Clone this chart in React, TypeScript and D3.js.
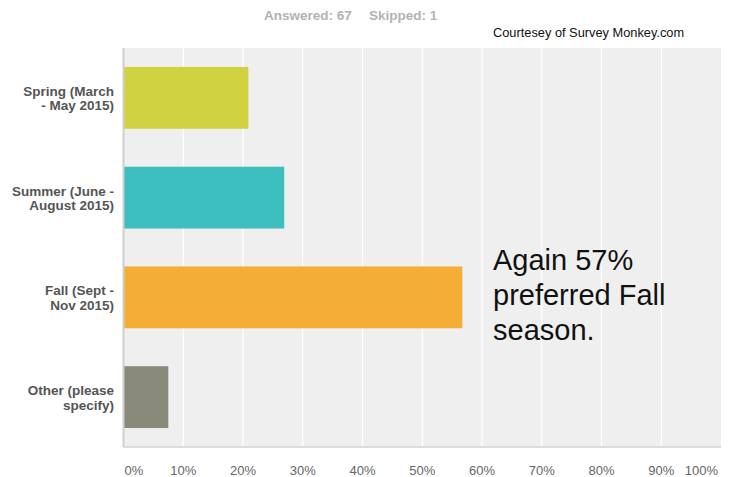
import React from 'react'
import * as d3 from 'd3'

const categories = ['Spring', 'Summer', 'Fall', 'Other']
const labelLines = [
  ['Spring (March', '- May 2015)'],
  ['Summer (June -', 'August 2015)'],
  ['Fall (Sept -', 'Nov 2015)'],
  ['Other (please', 'specify)'],
]
const values = [20.9, 26.9, 56.7, 7.5]
const barColors = ['#d0d23f', '#3dbfbf', '#f4ad36', '#8a8a7a']
const ticks = [0, 10, 20, 30, 40, 50, 60, 70, 80, 90, 100]
const noteLines = ['Again 57%', 'preferred Fall', 'season.']

const W = 732
const H = 477
const plot = { left: 123.5, right: 721, top: 48, bottom: 447 }
const font = '"Liberation Sans", Arial, Helvetica, sans-serif'

export default function App() {
  const x = d3.scaleLinear().domain([0, 100]).range([plot.left, plot.right])
  const y = d3
    .scaleBand<string>()
    .domain(categories)
    .range([plot.top, plot.bottom])
    .paddingInner(0.38)
    .paddingOuter(0.19)

  return (
    <div style={{ position: 'absolute', left: 0, top: 0 }}>
      <svg width={W} height={H} style={{ display: 'block', background: '#fff' }} fontFamily={font}>
        {/* header */}
        <text x={264} y={20} fontSize={13.5} fontWeight="bold" fill="#b3b3b3">Answered: 67</text>
        <text x={369} y={20} fontSize={13.5} fontWeight="bold" fill="#b3b3b3">Skipped: 1</text>
        <text x={493} y={37} fontSize={12.8} fill="#111">Courtesey of Survey Monkey.com</text>

        {/* plot background */}
        <rect x={plot.left} y={plot.top} width={plot.right - plot.left} height={plot.bottom - plot.top} fill="#efefef" />
        {ticks.slice(1, -1).map((t) => (
          <line key={t} x1={x(t)} x2={x(t)} y1={plot.top} y2={plot.bottom} stroke="#fff" strokeWidth={1.2} />
        ))}

        {/* bars */}
        {categories.map((c, i) => (
          <rect
            key={c}
            x={x(0)}
            y={y(c)}
            width={x(values[i]) - x(0)}
            height={y.bandwidth()}
            fill={barColors[i]}
          />
        ))}

        {/* axes lines */}
        <line x1={plot.left} x2={plot.right} y1={plot.bottom} y2={plot.bottom} stroke="#dcdcdc" strokeWidth={2} />
        <line x1={plot.left} x2={plot.left} y1={plot.top} y2={plot.bottom} stroke="#cfcfcf" strokeWidth={2} />

        {/* category labels */}
        {categories.map((c, i) => {
          const cy = (y(c) ?? 0) + y.bandwidth() / 2
          return (
            <text key={c} x={114} textAnchor="end" fontSize={13.5} fontWeight="bold" fill="#555">
              <tspan x={114} y={cy - 2}>{labelLines[i][0]}</tspan>
              <tspan x={114} y={cy + 12.5}>{labelLines[i][1]}</tspan>
            </text>
          )
        })}

        {/* x tick labels */}
        {ticks.map((t, i) => (
          <text
            key={t}
            x={i === 0 ? x(t) + 1 : i === ticks.length - 1 ? x(t) - 3 : x(t)}
            y={475}
            textAnchor={i === 0 ? 'start' : i === ticks.length - 1 ? 'end' : 'middle'}
            fontSize={13}
            fill="#666"
          >
            {t}%
          </text>
        ))}

        {/* annotation */}
        {noteLines.map((l, i) => (
          <text key={l} x={493} y={270 + i * 35} fontSize={29} fill="#111">{l}</text>
        ))}
      </svg>
    </div>
  )
}
